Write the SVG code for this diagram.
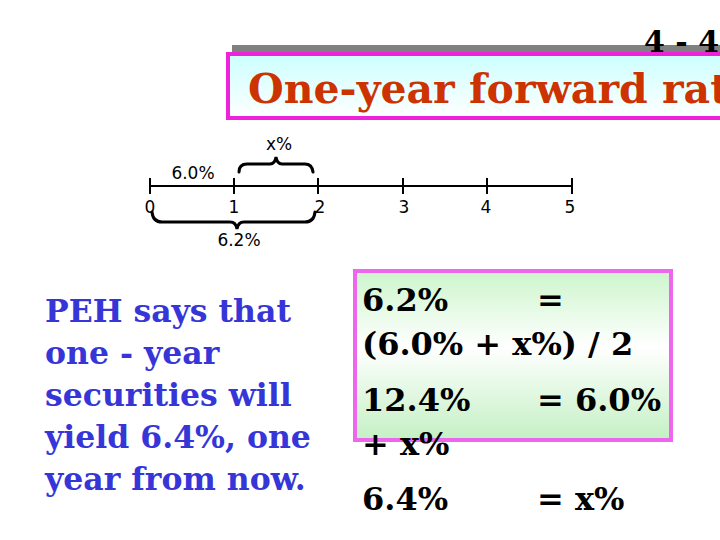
<svg xmlns="http://www.w3.org/2000/svg" width="720" height="540" viewBox="0 0 720 540">
<defs>
<linearGradient id="cyan" x1="0" y1="0" x2="0" y2="1"><stop offset="0" stop-color="#ccffff"/><stop offset="1" stop-color="#ffffff"/></linearGradient>
<linearGradient id="green" x1="0" y1="0" x2="0" y2="1"><stop offset="0" stop-color="#ccf5cc"/><stop offset="0.45" stop-color="#ffffff"/><stop offset="1" stop-color="#c4f0c4"/></linearGradient>
<style>
.serif{font-family:"DejaVu Serif","Liberation Serif",serif;font-weight:bold}
.tl{font-family:"DejaVu Sans","Liberation Sans",sans-serif;font-size:17px;fill:#000}
.ln{stroke:#000;stroke-width:2;fill:none}
.br{stroke:#000;stroke-width:3;fill:none;stroke-linecap:round}
.eq{font-size:32px;fill:#000}
.blue{font-size:31.5px;fill:#3636d8}
</style>
</defs>
<rect width="720" height="540" fill="#fff"/>
<g id="header">
<rect x="232" y="45" width="488" height="7" fill="#808080"/>
<rect x="228" y="54" width="496" height="64" fill="url(#cyan)" stroke="#ee22dd" stroke-width="4"/>
<text class="serif" x="644" y="52" font-size="30" fill="#000">4 - 4</text>
<text class="serif" x="248" y="103" font-size="41" fill="#cc3300">One-year forward rate</text>
</g>
<g id="timeline">
<line class="ln" x1="150" y1="186" x2="572" y2="186"/>
<line class="ln" x1="150" y1="178" x2="150" y2="194"/>
<line class="ln" x1="234" y1="178" x2="234" y2="194"/>
<line class="ln" x1="318" y1="178" x2="318" y2="194"/>
<line class="ln" x1="403" y1="178" x2="403" y2="194"/>
<line class="ln" x1="487" y1="178" x2="487" y2="194"/>
<line class="ln" x1="572" y1="178" x2="572" y2="194"/>
<text class="tl" x="150" y="213" text-anchor="middle">0</text>
<text class="tl" x="234" y="213" text-anchor="middle">1</text>
<text class="tl" x="320" y="213" text-anchor="middle">2</text>
<text class="tl" x="404" y="213" text-anchor="middle">3</text>
<text class="tl" x="486" y="213" text-anchor="middle">4</text>
<text class="tl" x="570" y="213" text-anchor="middle">5</text>
<text class="tl" x="193" y="179" text-anchor="middle">6.0%</text>
<text class="tl" x="279" y="150" text-anchor="middle">x%</text>
<text class="tl" x="239" y="246" text-anchor="middle">6.2%</text>
<path class="br" d="M239 172 Q239 164 247 164 L270 164 Q275 164 276 157 Q277 164 282 164 L305 164 Q312 164 313 172"/>
<path class="br" d="M152 212 Q153 222 162 222 L230 222 Q236 222 237 229 Q238 222 244 222 L305 222 Q314 222 315 212"/>
</g>
<g id="note">
<text class="serif blue" x="45" y="322">PEH says that</text>
<text class="serif blue" x="45" y="364">one - year</text>
<text class="serif blue" x="45" y="406">securities will</text>
<text class="serif blue" x="45" y="448">yield 6.4%, one</text>
<text class="serif blue" x="45" y="490">year from now.</text>
</g>
<g id="equations">
<rect x="355" y="271" width="316" height="169" fill="url(#green)" stroke="#ee66ee" stroke-width="4"/>
<text class="serif eq" x="362" y="311">6.2%</text>
<text class="serif eq" x="537" y="311">=</text>
<text class="serif eq" x="362" y="355">(6.0% + x%) / 2</text>
<text class="serif eq" x="362" y="411">12.4%</text>
<text class="serif eq" x="537" y="411">= 6.0%</text>
<text class="serif eq" x="362" y="455">+ x%</text>
<text class="serif eq" x="362" y="510">6.4%</text>
<text class="serif eq" x="537" y="510">= x%</text>
</g>
</svg>
